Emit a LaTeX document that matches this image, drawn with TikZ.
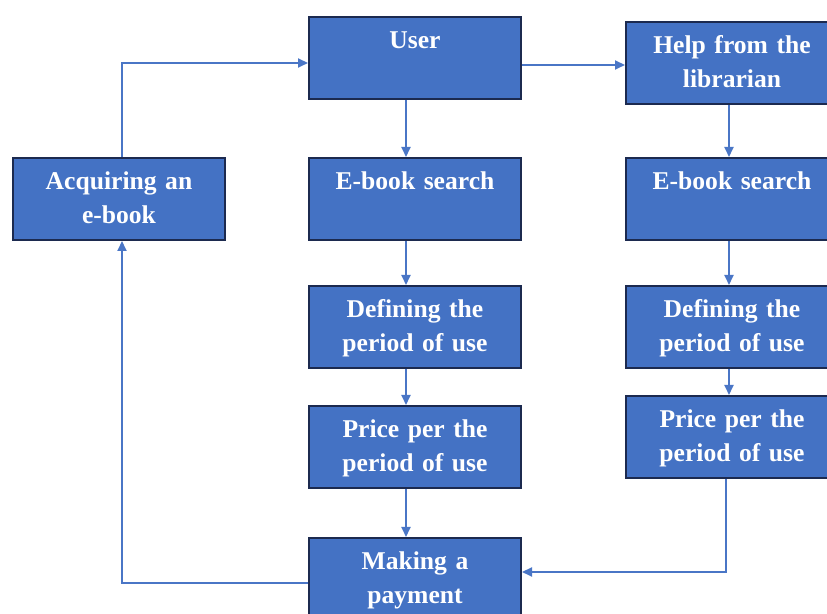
\documentclass[tikz,border=0pt]{standalone}
\usepackage{fontspec}
\setmainfont{Liberation Serif}
\usetikzlibrary{arrows.meta}
\definecolor{boxfill}{HTML}{4472C4}
\definecolor{boxline}{HTML}{1C2A4F}
\definecolor{flow}{HTML}{4A76C6}
\begin{document}
\begin{tikzpicture}[x=0.5pt, y=-0.5pt,
  box/.style={draw=boxline, fill=boxfill, line width=1pt, text=white, anchor=north west,
    font=\fontsize{12.8}{17}\selectfont\bfseries, align=center, text width=106pt,
    inner xsep=0pt, inner ysep=0pt, text height=16pt, text depth=25pt},
  flowline/.style={draw=flow, line width=1pt, -{Triangle[length=5pt, width=4.5pt]}}]
  \useasboundingbox (0,0) rectangle (827,614);
  % middle column: the user searches alone
  \node[box] (user) at (308,16) {User};
  \node[box] (ebs1) at (308,157) {E-book search};
  \node[box] (def1) at (308,285) {Defining the\\period of use};
  \node[box] (price1) at (308,405) {Price per the\\period of use};
  \node[box] (pay) at (308,537) {Making a\\payment};
  % right column: with the librarian
  \node[box] (help) at (625,21) {Help from the\\librarian};
  \node[box] (ebs2) at (625,157) {E-book search};
  \node[box] (def2) at (625,285) {Defining the\\period of use};
  \node[box] (price2) at (625,395) {Price per the\\period of use};
  % left
  \node[box] (acq) at (12,157) {Acquiring an\\e-book};
  \draw[flowline] ([xshift=-4.5pt]user.south) -- ([xshift=-4.5pt]ebs1.north);
  \draw[flowline] ([xshift=-4.5pt]ebs1.south) -- ([xshift=-4.5pt]def1.north);
  \draw[flowline] ([xshift=-4.5pt]def1.south) -- ([xshift=-4.5pt]price1.north);
  \draw[flowline] ([xshift=-4.5pt]price1.south) -- ([xshift=-4.5pt]pay.north);
  \coordinate (ua) at ([yshift=-3.5pt]user.east);
  \draw[flowline] (ua) -- (ua -| help.west);
  \draw[flowline] ([xshift=-1.5pt]help.south) -- ([xshift=-1.5pt]ebs2.north);
  \draw[flowline] ([xshift=-1.5pt]ebs2.south) -- ([xshift=-1.5pt]def2.north);
  \draw[flowline] ([xshift=-1.5pt]def2.south) -- ([xshift=-1.5pt]price2.north);
  \draw[flowline] ([xshift=-3pt]price2.south) |- ([yshift=3.5pt]pay.east);
  \draw[flowline] ([yshift=-2pt]pay.west) -| ([xshift=1.5pt]acq.south);
  \draw[flowline] ([xshift=1.5pt]acq.north) |- ([yshift=-2.5pt]user.west);
\end{tikzpicture}
\end{document}
